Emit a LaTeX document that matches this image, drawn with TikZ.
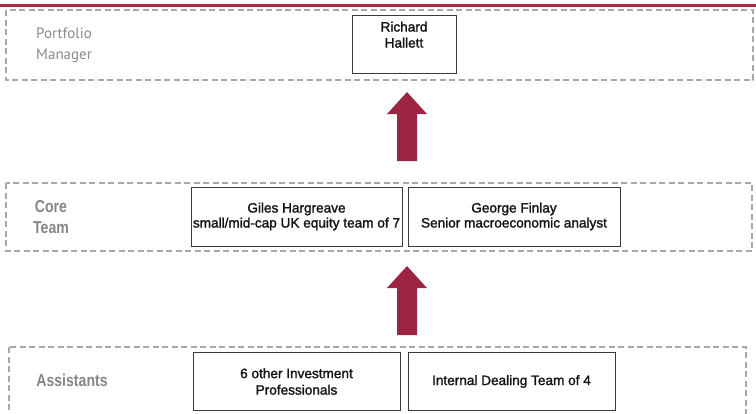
\documentclass[tikz,border=0pt]{standalone}
\usepackage{fontspec}
\setmainfont{Liberation Sans}
\newfontfamily\pmfont{PT Sans}
\newfontfamily\labfont[FakeStretch=0.82]{Liberation Sans}
\newfontfamily\boxfont[FakeBold=1.6]{Liberation Sans}
\definecolor{bandgray}{HTML}{A8A8A8}
\definecolor{boxgray}{HTML}{3A3A3A}
\definecolor{labelgray}{HTML}{858585}
\definecolor{pmgray}{HTML}{8A8A8A}
\definecolor{arrowred}{HTML}{9D2443}
\definecolor{rulered}{HTML}{A8283F}
\tikzset{
  band/.style={draw=bandgray, line width=1.2pt, dash pattern=on 6pt off 3.5pt},
  person/.style={draw=boxgray, line width=1pt, fill=white, inner sep=0pt, align=center,
    font=\boxfont\fontsize{13.6}{15}\selectfont, text=black!92},
  bandlabel/.style={inner sep=0pt, align=center, text=labelgray,
    font=\labfont\bfseries\fontsize{17.2}{21}\selectfont},
  blockarrow/.pic={\fill[arrowred] (0,0) -- (-10,0) -- (-10,-47) -- (-20,-47) -- (0,-69)
      -- (20,-47) -- (10,-47) -- (10,0) -- cycle;}
}
\begin{document}
\begin{tikzpicture}[x=1pt,y=-1pt]
\useasboundingbox (0,0) rectangle (756,413);
\clip (0,0) rectangle (756,413);
% top rule
\coordinate (ruleL) at (0,5.6);
\coordinate (ruleR) at (756,5.6);
\draw[rulered, line width=2.4pt] (ruleL) -- (ruleR);
% bands
\draw[band] (6,10) rectangle (753,80);
\draw[band] (6,183) rectangle (752,251);
\draw[band] (9,347) rectangle (746,440);
% band labels
\node[inner sep=0pt, align=left, anchor=west, text=pmgray,
  font=\pmfont\fontsize{15}{21}\selectfont] (pmlab) at (36,45) {Portfolio\\Manager};
\node[bandlabel] (corelab) at (51,217) {Core\\Team};
\node[bandlabel] (asslab) at (72,380.5) {Assistants};
% people boxes
\node[person, minimum width=104pt, minimum height=58pt] (rh) at (404,44) {};
\node[inner sep=0pt, align=center, anchor=north, text=black!92,
  font=\boxfont\fontsize{13.6}{16}\selectfont] (rhtext) at (404,21.5) {Richard\\Hallett};
\node[person, minimum width=211pt, minimum height=59pt] (gh) at (296.5,216.5)
  {Giles Hargreave\\small/mid-cap UK equity team of 7};
\node[person, minimum width=212pt, minimum height=59pt] (gf) at (514,216.5)
  {George Finlay\\Senior macroeconomic analyst};
\node[person, minimum width=207pt, minimum height=58pt,
  font=\boxfont\fontsize{13.6}{16.5}\selectfont] (io) at (296.5,381.5)
  {6 other Investment\\Professionals};
\node[person, minimum width=207pt, minimum height=58pt] (id) at (511.5,381.5)
  {Internal Dealing Team of 4};
% block arrows
\coordinate (a1tail) at (407,161);
\coordinate (a2tail) at (407,335);
\pic at (a1tail) {blockarrow};
\pic at (a2tail) {blockarrow};
\end{tikzpicture}
\end{document}
